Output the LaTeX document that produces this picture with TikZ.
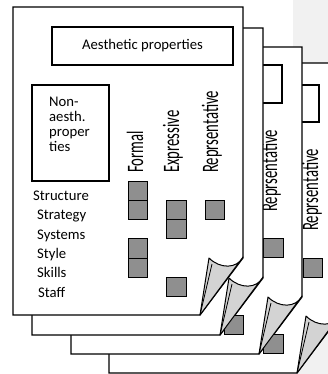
\documentclass[tikz,border=0pt]{standalone}
\usepackage{fontspec}
\setmainfont{Carlito}
\usepackage{graphicx}

\definecolor{sidebar}{HTML}{F1F1F1}
\definecolor{cellgray}{HTML}{8F8F8F}
\definecolor{curlgray}{HTML}{D3D3D3}

% one sheet of the stack: left, top, right, bottom
\newcommand{\pagesheet}[4]{%
  \path[sheet] ({#1},{#2}) -- ({#3},{#2}) -- ({#3},{#4-57}) -- ({#3-43},{#4}) -- ({#1},{#4}) -- cycle;}
% folded corner: right, bottom
\newcommand{\pagecurl}[2]{%
  \path[curl] ({#1},{#2-58}) .. controls ({#1-6},{#2-46}) and ({#1-23},{#2-46}) .. ({#1-34},{#2-57}) -- ({#1-43},{#2}) -- cycle;
  \draw[curlline] ({#1-31},{#2-51}) -- ({#1-43},{#2});}
\newcommand{\graycell}[2]{\path[cellbox] ({#1},{#2}) rectangle ++(19.5,19.3);}

\begin{document}
\begin{tikzpicture}[x=1pt,y=-1pt,
  font=\fontsize{14.7}{19.3}\selectfont,
  sheet/.style={draw,fill=white,line width=1.2pt},
  box/.style={draw,line width=1.2pt},
  curl/.style={draw,fill=curlgray,line width=1pt,line join=round},
  curlline/.style={line width=0.8pt},
  cellbox/.style={draw,fill=cellgray,line width=1pt},
  rowtext/.style={anchor=base west,inner sep=0pt},
  coltext/.style={rotate=90,anchor=base west,inner sep=0pt}]
\useasboundingbox (0,0) rectangle (328,374);
\clip (0,0) rectangle (328,374);
\fill[sidebar] (293,0) rectangle (328,374);

% sheet 4
\pagesheet{109}{63}{340}{373}
\draw[box] (148,85) rectangle (319,122);
\node[coltext] (repr4) at (318,231) {\scalebox{1}[1.6]{Reprsentative}};
\graycell{303}{258.2}
\pagecurl{340}{373}

% sheet 3
\pagesheet{71}{47}{302}{354}
\draw[box] (110,65) rectangle (282,103);
\node[coltext] (repr3) at (277,212) {\scalebox{1}[1.6]{Reprsentative}};
\graycell{263.5}{238.6}
\graycell{263.5}{334.5}
\pagecurl{302}{354}

% sheet 2
\pagesheet{32}{28}{263}{335}
\graycell{224}{315.5}
\pagecurl{263}{335}

% sheet 1
\pagesheet{13}{7}{243}{315}
\node[box,minimum width=181pt,minimum height=38pt] (aesth) at (142.5,46) {Aesthetic properties};
\draw[box] (32,85) rectangle (109,181);
\foreach \t [count=\i] in {Non-,aesth.,proper,ties}
  \node[rowtext] (nonaesth\i) at (49,{92+14.8*\i}) {\t};
\foreach \t/\x [count=\i] in {Structure/33,Strategy/37,Systems/37,Style/37,Skills/37,Staff/38}
  \node[rowtext] (row\i) at (\x,{181.2+19.3*\i}) {\t};
\node[coltext] (formal) at (143,173) {\scalebox{1}[1.6]{Formal}};
\node[coltext] (expressive) at (179,173) {\scalebox{1}[1.6]{Expressive}};
\node[coltext] (repr) at (218,173) {\scalebox{1}[1.6]{Reprsentative}};
\foreach \c/\r in {0/0,0/1,0/3,0/4,1/1,1/2,1/5,2/1}
  {\graycell{128+38.5*\c}{181+19.3*\r}}
\pagecurl{243}{315}
\end{tikzpicture}
\end{document}
